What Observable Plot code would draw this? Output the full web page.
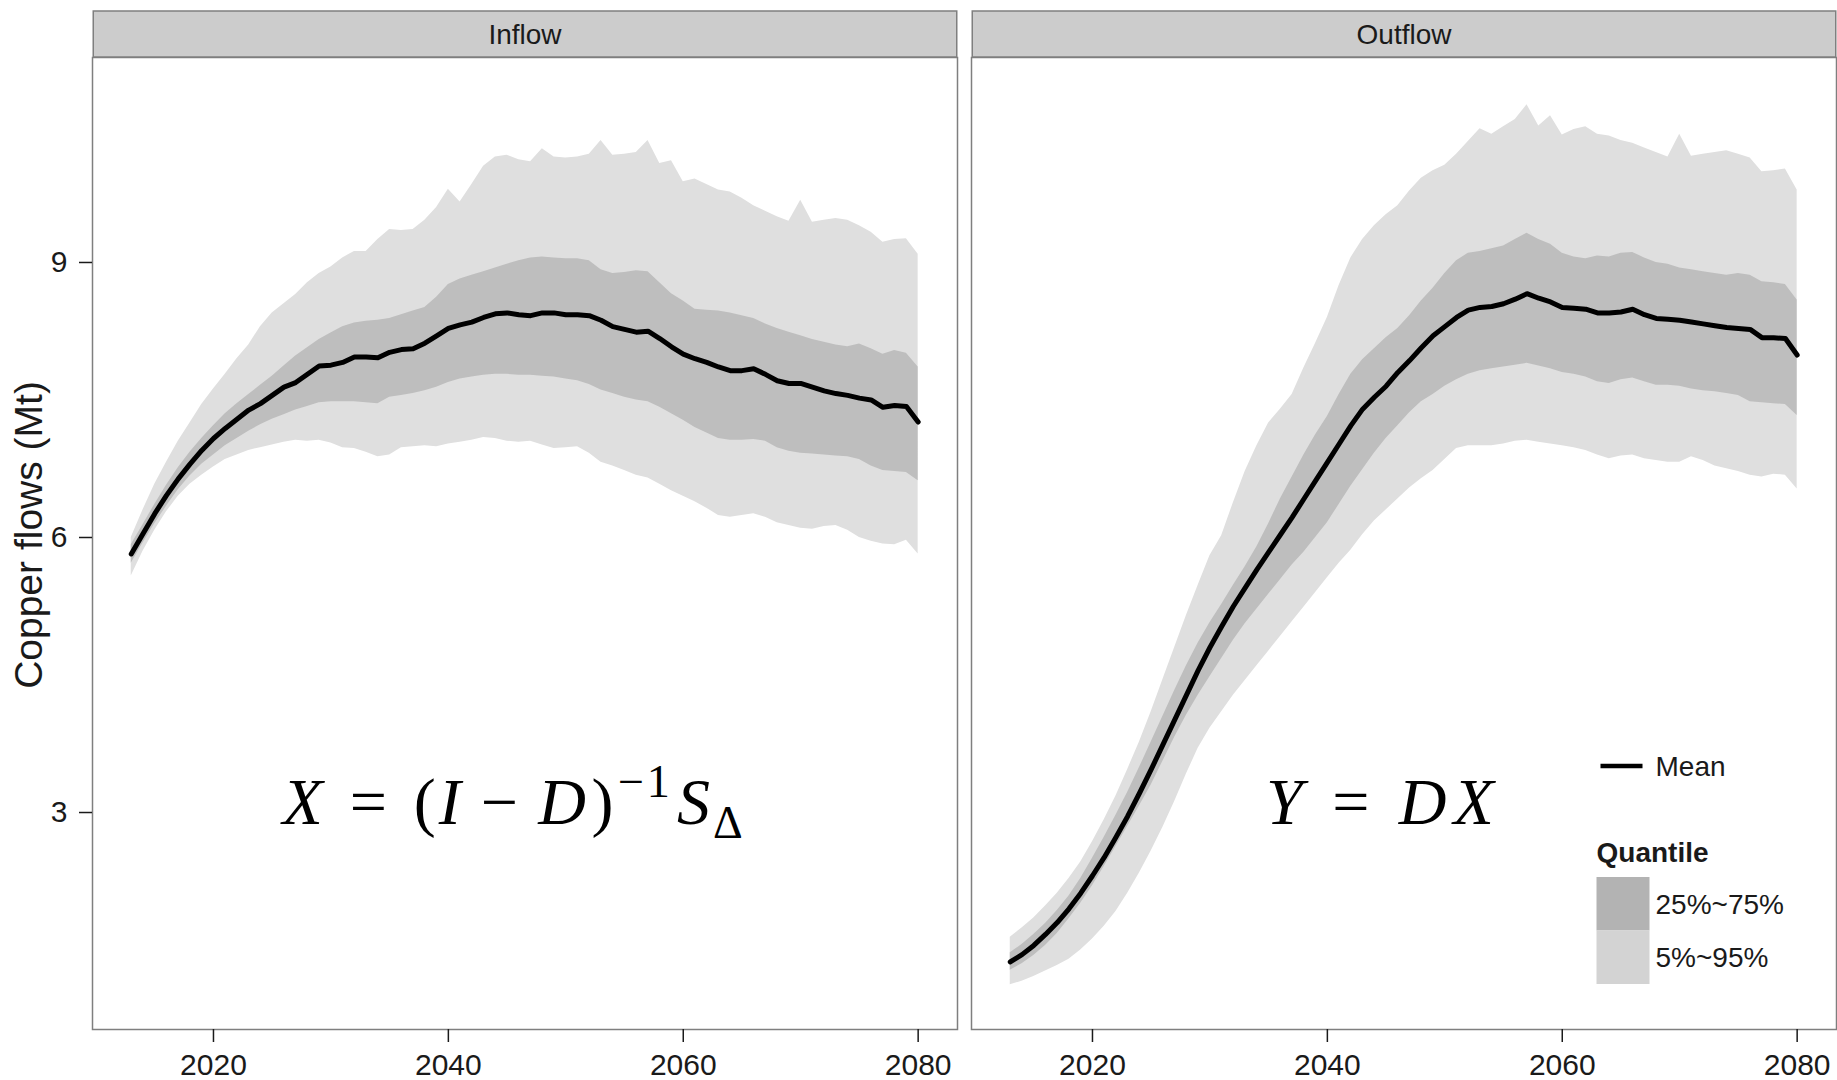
<!DOCTYPE html>
<html><head><meta charset="utf-8">
<script src="https://cdn.jsdelivr.net/npm/d3@7"></script>
<script src="https://cdn.jsdelivr.net/npm/@observablehq/plot@0.6"></script>
<style>
html,body{margin:0;padding:0;background:#fff;}
#chart svg{display:block;}
</style></head><body><div id="chart"></div>
<script>
const panels = ["Inflow", "Outflow"];
const years = [2013,2014,2015,2016,2017,2018,2019,2020,2021,2022,
 2023,2024,2025,2026,2027,2028,2029,2030,2031,2032,
 2033,2034,2035,2036,2037,2038,2039,2040,2041,2042,
 2043,2044,2045,2046,2047,2048,2049,2050,2051,2052,
 2053,2054,2055,2056,2057,2058,2059,2060,2061,2062,
 2063,2064,2065,2066,2067,2068,2069,2070,2071,2072,
 2073,2074,2075,2076,2077,2078,2079,2080];

const inflowMean = [5.82,6.04,6.26,6.46,6.64,6.80,6.95,7.08,7.19,7.29,
 7.39,7.46,7.55,7.64,7.69,7.78,7.87,7.88,7.91,7.97,
 7.97,7.96,8.02,8.05,8.06,8.12,8.20,8.28,8.32,8.35,
 8.40,8.44,8.45,8.43,8.42,8.45,8.45,8.43,8.43,8.42,
 8.37,8.30,8.27,8.24,8.25,8.17,8.08,8.00,7.95,7.91,
 7.86,7.82,7.82,7.84,7.78,7.71,7.68,7.68,7.64,7.60,
 7.57,7.55,7.52,7.50,7.42,7.44,7.43,7.26];
const inflowQ95 = [6.00,6.30,6.58,6.82,7.05,7.25,7.45,7.62,7.78,7.95,
 8.10,8.30,8.45,8.55,8.65,8.78,8.88,8.95,9.05,9.12,
 9.12,9.25,9.36,9.35,9.36,9.46,9.60,9.80,9.66,9.85,
 10.05,10.15,10.17,10.12,10.10,10.24,10.15,10.14,10.15,10.18,
 10.33,10.17,10.18,10.20,10.33,10.08,10.11,9.88,9.91,9.85,
 9.79,9.77,9.70,9.62,9.56,9.50,9.45,9.68,9.44,9.46,
 9.48,9.46,9.40,9.33,9.22,9.25,9.26,9.09];
const inflowQ75 = [5.92,6.14,6.36,6.57,6.76,6.93,7.08,7.22,7.35,7.46,
 7.56,7.66,7.76,7.87,7.98,8.07,8.16,8.23,8.30,8.34,
 8.36,8.37,8.39,8.43,8.47,8.51,8.62,8.76,8.82,8.86,
 8.90,8.94,8.98,9.02,9.05,9.06,9.05,9.04,9.04,9.02,
 8.92,8.88,8.89,8.91,8.90,8.78,8.66,8.58,8.49,8.48,
 8.47,8.45,8.42,8.39,8.33,8.28,8.24,8.20,8.16,8.13,
 8.10,8.08,8.11,8.06,8.00,8.04,8.01,7.86];
const inflowQ25 = [5.72,5.94,6.15,6.34,6.52,6.67,6.80,6.90,7.00,7.08,
 7.16,7.23,7.29,7.34,7.39,7.43,7.47,7.48,7.48,7.48,
 7.47,7.46,7.53,7.55,7.57,7.60,7.64,7.69,7.73,7.75,
 7.77,7.78,7.78,7.77,7.77,7.76,7.75,7.73,7.71,7.67,
 7.61,7.57,7.53,7.50,7.48,7.42,7.35,7.28,7.20,7.14,
 7.08,7.06,7.06,7.07,7.05,6.98,6.94,6.92,6.91,6.90,
 6.89,6.88,6.85,6.78,6.73,6.72,6.71,6.62];
const inflowQ05 = [5.58,5.85,6.08,6.28,6.45,6.58,6.68,6.77,6.85,6.90,
 6.95,6.98,7.01,7.04,7.06,7.05,7.06,7.03,6.98,6.97,
 6.93,6.88,6.90,6.98,6.99,7.00,6.99,7.02,7.04,7.06,
 7.09,7.08,7.05,7.04,7.05,7.01,6.97,6.98,6.99,6.92,
 6.82,6.78,6.73,6.68,6.65,6.58,6.51,6.45,6.39,6.32,
 6.24,6.22,6.24,6.26,6.22,6.16,6.13,6.10,6.09,6.12,
 6.13,6.08,6.00,5.96,5.93,5.92,5.97,5.82];

const outflowMean = [1.37,1.45,1.55,1.67,1.80,1.95,2.12,2.31,2.51,2.73,
 2.96,3.21,3.47,3.74,4.01,4.28,4.55,4.80,5.03,5.25,
 5.45,5.65,5.84,6.03,6.22,6.42,6.62,6.82,7.02,7.22,
 7.40,7.53,7.65,7.80,7.93,8.07,8.20,8.30,8.40,8.48,
 8.51,8.52,8.55,8.60,8.66,8.61,8.57,8.51,8.50,8.49,
 8.45,8.45,8.46,8.49,8.43,8.39,8.38,8.37,8.35,8.33,
 8.31,8.29,8.28,8.27,8.18,8.18,8.17,7.99];
const outflowQ95 = [1.64,1.74,1.85,1.98,2.12,2.28,2.46,2.68,2.92,3.18,
 3.47,3.77,4.10,4.45,4.80,5.15,5.48,5.80,6.02,6.38,
 6.72,7.00,7.25,7.40,7.56,7.85,8.12,8.40,8.75,9.05,
 9.25,9.40,9.52,9.62,9.78,9.92,10.00,10.06,10.18,10.32,
 10.46,10.40,10.48,10.56,10.72,10.49,10.60,10.39,10.45,10.48,
 10.40,10.38,10.33,10.30,10.25,10.20,10.15,10.40,10.16,10.18,
 10.20,10.22,10.18,10.14,9.99,10.00,10.02,9.79];
const outflowQ75 = [1.47,1.56,1.67,1.79,1.93,2.09,2.28,2.50,2.73,2.97,
 3.22,3.49,3.77,4.05,4.33,4.60,4.85,5.07,5.27,5.48,
 5.68,5.90,6.15,6.42,6.66,6.90,7.12,7.32,7.56,7.78,
 7.94,8.06,8.18,8.28,8.42,8.58,8.72,8.88,9.02,9.10,
 9.12,9.15,9.18,9.25,9.32,9.25,9.20,9.10,9.06,9.04,
 9.07,9.06,9.10,9.11,9.05,9.00,8.98,8.94,8.92,8.90,
 8.88,8.86,8.88,8.86,8.79,8.78,8.76,8.59];
const outflowQ25 = [1.28,1.35,1.44,1.55,1.68,1.84,2.01,2.20,2.41,2.63,
 2.85,3.07,3.30,3.56,3.82,4.06,4.28,4.48,4.68,4.88,
 5.06,5.22,5.38,5.54,5.70,5.84,6.00,6.16,6.36,6.56,
 6.74,6.92,7.08,7.22,7.36,7.48,7.56,7.65,7.72,7.78,
 7.82,7.84,7.86,7.88,7.90,7.87,7.84,7.80,7.78,7.75,
 7.70,7.68,7.72,7.74,7.70,7.66,7.66,7.65,7.62,7.60,
 7.59,7.57,7.55,7.48,7.47,7.46,7.45,7.33];
const outflowQ05 = [1.12,1.16,1.21,1.27,1.33,1.40,1.50,1.62,1.76,1.92,
 2.12,2.34,2.58,2.84,3.12,3.42,3.70,3.92,4.10,4.28,
 4.44,4.60,4.76,4.92,5.08,5.24,5.40,5.56,5.72,5.86,
 6.03,6.18,6.30,6.42,6.54,6.64,6.73,6.85,6.97,7.00,
 7.00,7.00,7.02,7.05,7.06,7.04,7.02,7.00,6.98,6.95,
 6.90,6.86,6.89,6.90,6.86,6.84,6.82,6.82,6.88,6.84,
 6.78,6.75,6.72,6.68,6.66,6.69,6.68,6.53];

const xTicks = [2020, 2040, 2060, 2080];
const yTicks = [3, 6, 9];
const yTitle = "Copper flows (Mt)";
const legendMeanLabel = "Mean";
const legendTitle = "Quantile";
const legendItems = ["25%~75%", "5%~95%"];
const formulas = [
  {panel: "Inflow", year: 2045.6, value: 3.1, key: "inflow"},
  {panel: "Outflow", year: 2044.6, value: 3.1, key: "outflow"}
];

const COL_LIGHT = "#dfdfdf", COL_DARK = "#bebebe";
const KEY_LIGHT = "#d3d3d3", KEY_DARK = "#b3b3b3";
const FONT = "'Liberation Sans', Arial, Helvetica, sans-serif";
const MATH_FONT = "'Liberation Serif', 'Times New Roman', serif";

const series = {
  Inflow: {mean: inflowMean, q05: inflowQ05, q25: inflowQ25, q75: inflowQ75, q95: inflowQ95},
  Outflow: {mean: outflowMean, q05: outflowQ05, q25: outflowQ25, q75: outflowQ75, q95: outflowQ95}
};
const rows = panels.flatMap(p => years.map((yr, i) => ({
  panel: p, year: yr,
  mean: series[p].mean[i], q05: series[p].q05[i], q25: series[p].q25[i],
  q75: series[p].q75[i], q95: series[p].q95[i]
})));

const MATH_FS = 66;
const plot = Plot.plot({
  width: 1837, height: 1080,
  marginLeft: 92, marginRight: 0, marginTop: 57, marginBottom: 51,
  style: {fontFamily: FONT, background: "white", color: "#1a1a1a"},
  fx: {domain: panels, paddingInner: 0.0159, paddingOuter: 0, axis: null, label: null},
  x: {domain: [2009.7, 2083.35], label: null},
  y: {domain: [0.633, 11.236], label: null},
  marks: [
    Plot.areaY(rows, {fx: "panel", x: "year", y1: "q05", y2: "q95", fill: COL_LIGHT}),
    Plot.areaY(rows, {fx: "panel", x: "year", y1: "q25", y2: "q75", fill: COL_DARK}),
    Plot.lineY(rows, {fx: "panel", x: "year", y: "mean", stroke: "black", strokeWidth: 5, strokeLinejoin: "round"}),
    Plot.text(formulas, {fx: "panel", x: "year", y: "value", text: "key", fontSize: MATH_FS,
      fontFamily: MATH_FONT, textAnchor: "middle", fill: "black"}),
    Plot.frame({stroke: "#7f7f7f", strokeWidth: 1.5}),
    Plot.axisX({ticks: xTicks, tickFormat: d => String(d), tickSize: 13, tickPadding: 11,
      fontSize: 30, color: "#1a1a1a", strokeWidth: 1.5, label: null}),
    Plot.axisY({ticks: yTicks, tickSize: 13, tickPadding: 12, fontSize: 30,
      color: "#1a1a1a", strokeWidth: 1.5, label: null})
  ]
});
document.getElementById("chart").appendChild(plot);

const svg = d3.select(plot);
const NS = "http://www.w3.org/2000/svg";

// math formulas as rich text
const mathParts = {
  inflow: [
    {t: "X", k: "i"}, {t: "=", k: "n", dx: 0.36}, {t: "(", k: "n", dx: 0.36},
    {t: "I", k: "i"}, {t: "\u2212", k: "n", dx: 0.26}, {t: "D", k: "i", dx: 0.26},
    {t: ")", k: "n", dx: 0.04}, {t: "\u22121", k: "sup", dx: 0.02}, {t: "S", k: "i", dx: 0.06},
    {t: "\u0394", k: "sub"}
  ],
  outflow: [
    {t: "Y", k: "i"}, {t: "=", k: "n", dx: 0.4}, {t: "D", k: "i", dx: 0.4}, {t: "X", k: "i", dx: 0.06}
  ]
};
svg.selectAll('g[aria-label="text"] text').each(function() {
  const key = this.textContent;
  const parts = mathParts[key];
  if (!parts) return;
  const fs = MATH_FS;
  this.textContent = "";
  this.setAttribute("letter-spacing", "3");
  let shift = 0;
  for (const p of parts) {
    const t = document.createElementNS(NS, "tspan");
    t.textContent = p.t;
    let target = 0, size = fs;
    if (p.k === "sup") { target = -0.42 * fs; size = 0.7 * fs; }
    else if (p.k === "sub") { target = 0.2 * fs; size = 0.7 * fs; }
    t.setAttribute("font-size", size);
    if (p.k === "i") t.setAttribute("font-style", "italic");
    if (target - shift !== 0) t.setAttribute("dy", target - shift);
    shift = target;
    if (p.dx) t.setAttribute("dx", p.dx * fs);
    this.appendChild(t);
  }
});

// strips above each panel
const frames = plot.querySelectorAll('g[aria-label="frame"] rect');
const stripTop = 11, stripBottom = 57;
const panelBoxes = [];
frames.forEach((r) => {
  const b = r.getBoundingClientRect();
  panelBoxes.push({left: b.left, right: b.right, top: b.top, bottom: b.bottom});
});
const stripG = svg.append("g").attr("aria-label", "strips");
panelBoxes.forEach((b, i) => {
  stripG.append("rect")
    .attr("x", b.left + 0.75).attr("y", stripTop)
    .attr("width", b.right - b.left - 1.5).attr("height", stripBottom - stripTop)
    .attr("fill", "#cccccc").attr("stroke", "#7f7f7f").attr("stroke-width", 1.5);
  stripG.append("text")
    .attr("x", (b.left + b.right) / 2).attr("y", (stripTop + stripBottom) / 2)
    .attr("dy", "0.35em").attr("text-anchor", "middle")
    .attr("font-family", FONT).attr("font-size", 28).attr("fill", "#1a1a1a")
    .text(panels[i]);
});

// y axis title
const yr = plot.scale("y").range;
svg.append("text")
  .attr("transform", `translate(28,${(yr[0] + yr[1]) / 2 - 8}) rotate(-90)`)
  .attr("dy", "0.35em").attr("text-anchor", "middle")
  .attr("font-family", FONT).attr("font-size", 39).attr("fill", "#1a1a1a")
  .text(yTitle);

// legend (inside right panel)
const rb = panelBoxes[1];
const lx = rb.left + 625;
const lg = svg.append("g").attr("aria-label", "legend")
  .attr("font-family", FONT).attr("fill", "#1a1a1a").attr("text-anchor", "start");
lg.append("line").attr("x1", lx + 4).attr("x2", lx + 46).attr("y1", 766).attr("y2", 766)
  .attr("stroke", "black").attr("stroke-width", 4.5);
lg.append("text").attr("x", lx + 59).attr("y", 766).attr("dy", "0.35em")
  .attr("text-anchor", "start").attr("font-size", 28).text(legendMeanLabel);
lg.append("text").attr("x", lx).attr("y", 862).attr("text-anchor", "start")
  .attr("font-size", 28).attr("font-weight", "bold").text(legendTitle);
const keyCols = [KEY_DARK, KEY_LIGHT];
legendItems.forEach((lab, i) => {
  const y0 = 877 + i * 53.5;
  lg.append("rect").attr("x", lx).attr("y", y0).attr("width", 53).attr("height", 53.5)
    .attr("fill", keyCols[i]);
  lg.append("text").attr("x", lx + 59).attr("y", y0 + 27).attr("dy", "0.35em")
    .attr("text-anchor", "start").attr("font-size", 28).text(lab);
});
</script>
</body></html>
